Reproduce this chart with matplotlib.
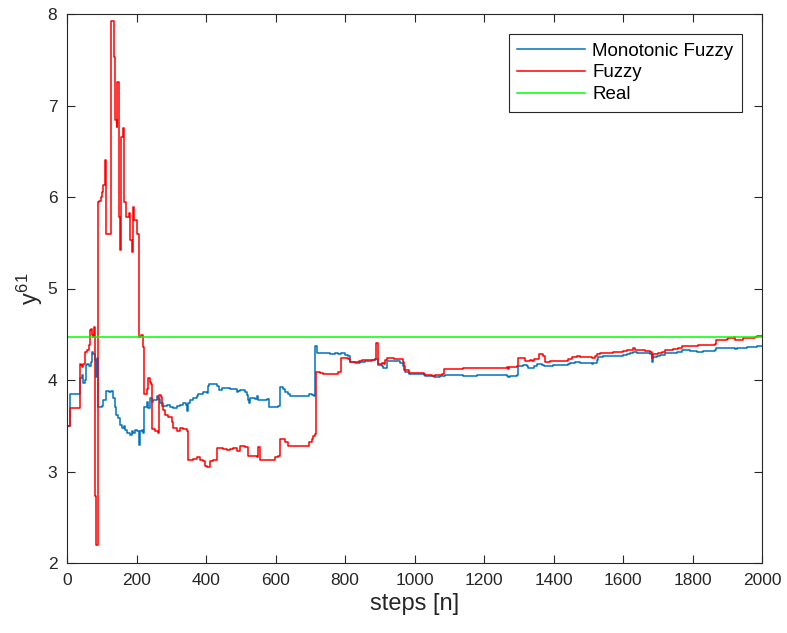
import numpy as np
import matplotlib
matplotlib.use("Agg")
import matplotlib.pyplot as plt

plt.rcParams['font.family'] = ['Liberation Sans', 'DejaVu Sans']
plt.rcParams['mathtext.fontset'] = 'custom'
plt.rcParams['mathtext.rm'] = 'Liberation Sans'
plt.rcParams['mathtext.it'] = 'Liberation Sans'

# estimate of y^61 against step count (piecewise constant, value holds until next step)
mono_steps = [0, 8, 38, 44, 47, 51, 54, 58, 63, 68, 71, 76, 80, 83, 87, 90,
              100, 104, 112, 120, 128, 131, 138, 141, 147, 152, 157, 163, 167,
              172, 181, 186, 191, 196, 202, 207, 210, 215, 220, 222, 229, 234,
              239, 244, 248, 258, 263, 268, 277, 287, 296, 306, 316, 325, 335,
              342, 344, 347, 354, 364, 373, 378, 392, 402, 407, 410, 421, 431,
              436, 445, 460, 469, 479, 488, 493, 498, 512, 517, 522, 525, 527,
              541, 546, 551, 565, 575, 582, 608, 613, 623, 628, 637, 642, 690,
              695, 704, 712, 715, 719, 738, 757, 772, 781, 788, 800, 810, 815,
              829, 844, 858, 877, 887, 894, 906, 909, 922, 940, 959, 968, 973,
              983, 1007, 1026, 1031, 1055, 1074, 1088, 1103, 1141, 1180, 1265,
              1270, 1275, 1296, 1299, 1313, 1323, 1328, 1344, 1352, 1366, 1373,
              1380, 1399, 1419, 1438, 1443, 1448, 1462, 1476, 1496, 1510, 1515,
              1524, 1529, 1543, 1582, 1601, 1611, 1620, 1630, 1639, 1678, 1683,
              1687, 1697, 1707, 1721, 1740, 1754, 1769, 1793, 1812, 1831, 1850,
              1865, 1869, 1898, 1918, 1922, 1927, 1956, 1985, 2000]
mono_vals = [3.50, 3.85, 4.02, 4.06, 3.97, 4.00, 4.16, 4.17, 4.15, 4.20, 4.31,
             4.28, 4.22, 4.03, 4.24, 3.70, 3.72, 3.78, 3.88, 3.87, 3.88, 3.80,
             3.71, 3.62, 3.58, 3.51, 3.47, 3.50, 3.45, 3.42, 3.40, 3.44, 3.42,
             3.45, 3.44, 3.29, 3.44, 3.45, 3.42, 3.71, 3.76, 3.69, 3.80, 3.76,
             3.78, 3.82, 3.79, 3.75, 3.72, 3.73, 3.71, 3.69, 3.72, 3.73, 3.75,
             3.73, 3.66, 3.75, 3.78, 3.80, 3.82, 3.85, 3.87, 3.86, 3.93, 3.96,
             3.96, 3.93, 3.89, 3.91, 3.91, 3.90, 3.90, 3.87, 3.88, 3.89, 3.87,
             3.84, 3.78, 3.75, 3.80, 3.79, 3.83, 3.78, 3.78, 3.79, 3.71, 3.72,
             3.92, 3.90, 3.87, 3.85, 3.82, 3.83, 3.85, 3.84, 3.82, 4.37, 4.29,
             4.29, 4.28, 4.29, 4.28, 4.30, 4.27, 4.26, 4.20, 4.19, 4.20, 4.21,
             4.22, 4.23, 4.16, 4.15, 4.13, 4.21, 4.21, 4.19, 4.15, 4.09, 4.07,
             4.07, 4.06, 4.04, 4.03, 4.04, 4.05, 4.05, 4.04, 4.05, 4.04, 4.03,
             4.04, 4.05, 4.15, 4.16, 4.15, 4.13, 4.15, 4.18, 4.16, 4.15, 4.15,
             4.16, 4.16, 4.16, 4.18, 4.19, 4.20, 4.19, 4.19, 4.18, 4.19, 4.22,
             4.25, 4.26, 4.26, 4.27, 4.28, 4.29, 4.31, 4.30, 4.28, 4.20, 4.25,
             4.26, 4.27, 4.29, 4.30, 4.31, 4.33, 4.32, 4.31, 4.32, 4.32, 4.33,
             4.35, 4.35, 4.35, 4.34, 4.35, 4.36, 4.37, 4.37]

fuzzy_steps = [0, 8, 38, 41, 44, 47, 51, 58, 63, 66, 70, 72, 75, 77, 80, 81,
               84, 90, 93, 97, 102, 105, 109, 112, 128, 136, 138, 143, 145,
               149, 152, 154, 162, 165, 169, 179, 181, 186, 189, 193, 200, 207,
               213, 218, 222, 229, 234, 239, 243, 246, 253, 263, 266, 270, 272,
               277, 282, 292, 301, 306, 316, 325, 335, 344, 349, 364, 373, 383,
               392, 397, 404, 412, 421, 431, 440, 450, 460, 469, 479, 488, 498,
               512, 522, 541, 546, 549, 554, 575, 599, 608, 613, 628, 637, 690,
               695, 704, 709, 714, 717, 728, 738, 757, 772, 781, 788, 810, 815,
               839, 848, 873, 887, 890, 894, 896, 906, 911, 915, 922, 940, 966,
               970, 983, 1007, 1026, 1031, 1050, 1059, 1079, 1084, 1103, 1141,
               1180, 1227, 1265, 1268, 1273, 1296, 1299, 1318, 1333, 1337, 1344,
               1359, 1371, 1376, 1390, 1419, 1438, 1443, 1452, 1467, 1472, 1476,
               1510, 1520, 1524, 1534, 1543, 1572, 1596, 1601, 1611, 1625, 1630,
               1635, 1663, 1678, 1683, 1687, 1702, 1711, 1721, 1745, 1759, 1769,
               1793, 1817, 1841, 1865, 1868, 1879, 1898, 1903, 1918, 1922, 1946,
               1965, 1980, 1985, 2000]
fuzzy_vals = [3.50, 3.69, 4.18, 4.16, 4.14, 4.18, 4.31, 4.33, 4.38, 4.55, 4.56,
              4.49, 4.47, 4.58, 4.57, 2.73, 2.20, 5.95, 5.96, 6.00, 6.05, 6.13,
              6.40, 5.60, 7.92, 7.53, 6.84, 6.77, 7.26, 5.78, 5.42, 6.66, 6.75,
              5.95, 5.78, 5.82, 5.53, 5.40, 5.89, 5.75, 5.60, 4.47, 4.49, 4.36,
              3.85, 3.90, 4.02, 3.98, 3.96, 3.46, 3.44, 3.42, 3.84, 3.81, 3.72,
              3.67, 3.62, 3.60, 3.54, 3.47, 3.44, 3.47, 3.46, 3.44, 3.13, 3.14,
              3.16, 3.13, 3.11, 3.06, 3.05, 3.11, 3.13, 3.26, 3.26, 3.25, 3.24,
              3.25, 3.26, 3.22, 3.28, 3.27, 3.17, 3.17, 3.16, 3.27, 3.13, 3.13,
              3.16, 3.17, 3.36, 3.32, 3.28, 3.28, 3.32, 3.36, 3.39, 3.41, 4.09,
              4.08, 4.07, 4.07, 4.07, 4.09, 4.24, 4.23, 4.20, 4.21, 4.22, 4.22,
              4.23, 4.40, 4.24, 4.18, 4.19, 4.18, 4.22, 4.24, 4.23, 4.20, 4.11,
              4.08, 4.08, 4.07, 4.05, 4.04, 4.06, 4.07, 4.12, 4.12, 4.13, 4.13,
              4.13, 4.14, 4.12, 4.14, 4.15, 4.24, 4.21, 4.22, 4.21, 4.23, 4.28,
              4.26, 4.20, 4.21, 4.21, 4.21, 4.23, 4.25, 4.26, 4.26, 4.25, 4.24,
              4.26, 4.28, 4.29, 4.30, 4.31, 4.31, 4.32, 4.33, 4.33, 4.35, 4.33,
              4.32, 4.31, 4.24, 4.28, 4.29, 4.31, 4.33, 4.34, 4.35, 4.37, 4.37,
              4.38, 4.38, 4.39, 4.44, 4.44, 4.45, 4.46, 4.47, 4.44, 4.455, 4.46,
              4.47, 4.48, 4.48]

real_value = 4.475

x_ticks = [0, 200, 400, 600, 800, 1000, 1200, 1400, 1600, 1800, 2000]
y_ticks = [2, 3, 4, 5, 6, 7, 8]

axis_color = '#262626'

fig = plt.figure(figsize=(7.87, 6.33), dpi=100)
ax = fig.add_axes([67 / 787, 1 - 563 / 633, 695 / 787, 549 / 633])

ax.plot(mono_steps, mono_vals, drawstyle='steps-post', color='#0072BD',
        lw=1.1, label='Monotonic Fuzzy')
ax.plot(fuzzy_steps, fuzzy_vals, drawstyle='steps-post', color='#FF0000',
        lw=1.1, label='Fuzzy')
ax.plot([0, 2000], [real_value, real_value], color='#00FF00', lw=1.1,
        label='Real')

ax.set_xlim(0, 2000)
ax.set_ylim(2, 8)
ax.set_xticks(x_ticks)
ax.set_yticks(y_ticks)
ax.tick_params(direction='in', length=6, width=0.8, top=True, right=True,
               colors=axis_color, labelsize=12.5, pad=7)
for spine in ax.spines.values():
    spine.set_color(axis_color)
    spine.set_linewidth(0.8)

ax.set_xlabel('steps [n]', fontsize=17, color=axis_color, labelpad=4)
ax.set_ylabel('$y^{61}$', fontsize=17, color=axis_color, labelpad=2)

leg = ax.legend(loc='upper right', bbox_to_anchor=(1 - 20 / 695, 1 - 20 / 549),
                borderaxespad=0, fontsize=13.5, fancybox=False, framealpha=1,
                edgecolor=axis_color, handlelength=3.6, handletextpad=0.4,
                labelspacing=0.25, borderpad=0.45)
leg.get_frame().set_linewidth(0.8)

fig.savefig('out.png', dpi=100)
